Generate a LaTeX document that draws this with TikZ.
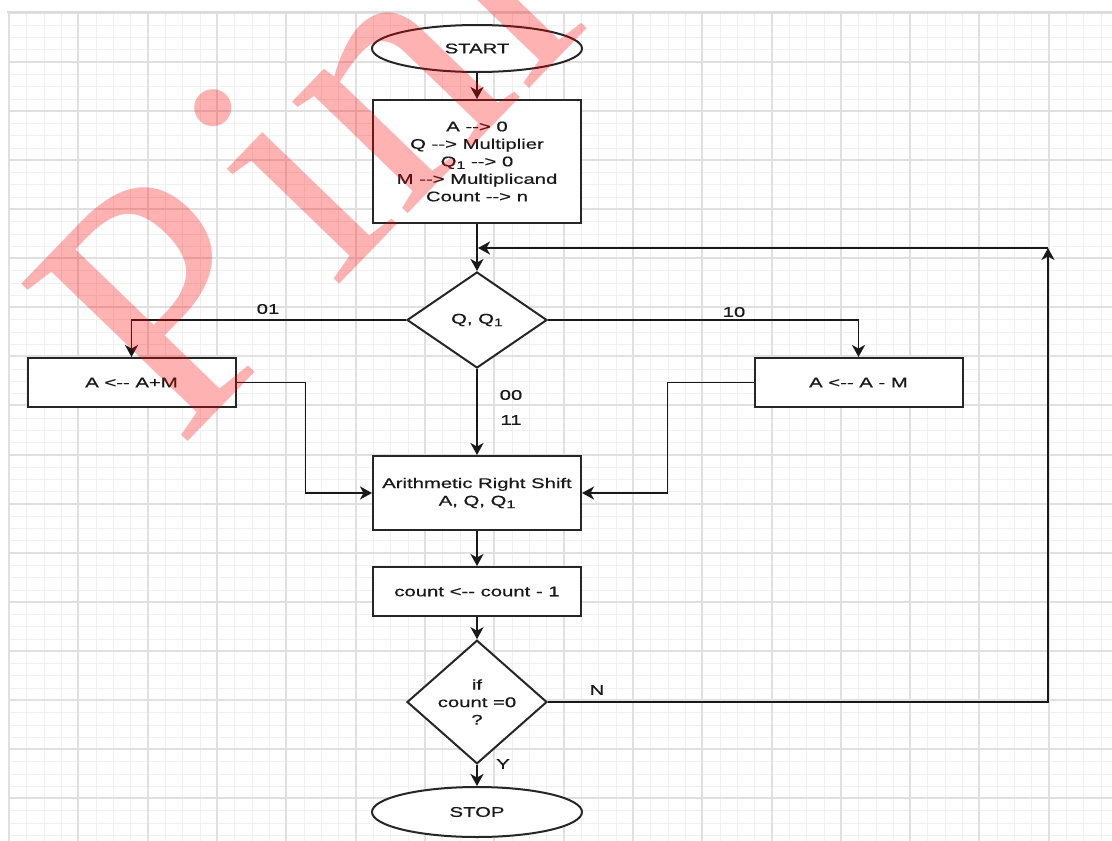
\documentclass[tikz,border=0pt]{standalone}
\usepackage{fontspec}
\setmainfont[FakeStretch=1.45,FakeBold=0.6]{Liberation Sans}
\newfontfamily\wmfont{Liberation Serif}
\usetikzlibrary{shapes.geometric,arrows.meta,calc}
\newcommand{\subone}{\raisebox{-0.35ex}{\fontsize{11pt}{11pt}\selectfont 1}}

\begin{document}
\begin{tikzpicture}[x=1pt,y=-1pt,
  gridminor/.style={draw=black!6,line width=1pt},
  gridmajor/.style={draw=black!12,line width=2pt},
  outline/.style={draw=black!85,line width=2pt,fill=white},
  txt/.style={font=\fontsize{14pt}{17.5pt}\selectfont,text=black!90,align=center},
  procbox/.style={outline,txt,rectangle,inner sep=0pt},
  decision/.style={outline,txt,diamond,inner sep=0pt},
  terminal/.style={outline,txt,ellipse,inner sep=0pt,minimum width=210pt,minimum height=47pt},
  lbl/.style={txt,inner sep=0pt},
  conn/.style={draw=black!90,line width=1.9pt,-{Stealth[length=12pt,width=13pt,inset=3.5pt]}},
  wm/.style={text=red,opacity=0.3,font=\wmfont\fontsize{350pt}{350pt}\selectfont,inner sep=0pt}
]
\useasboundingbox (0,0) rectangle (1112,841);
\clip (0,0) rectangle (1112,841);
\fill[white] (0,0) rectangle (1112,841);

% background grid, snapped to whole pixels
\foreach \i in {0,...,63} {
  \pgfmathsetmacro{\gx}{round(9+\i*17.33)+0.5}
  \draw[gridminor] (\gx,12.6) -- (\gx,841);
}
\foreach \j in {0,...,67} {
  \pgfmathsetmacro{\gy}{round(12.6+\j*12.275)+0.5}
  \draw[gridminor] (9,\gy) -- (1112,\gy);
}
\foreach \i in {0,...,15} {
  \pgfmathsetmacro{\gx}{round(9+\i*69.32)}
  \draw[gridmajor] (\gx,12.6) -- (\gx,841);
}
\foreach \j in {0,...,16} {
  \pgfmathsetmacro{\gy}{round(12.6+\j*49.1)}
  \draw[gridmajor] (9,\gy) -- (1112,\gy);
}
\draw[draw=black!14,line width=2pt] (7,12) -- (1112,12);

% flowchart nodes
\node[terminal] (start) at (477,48.5) {START};
\node[procbox,minimum width=208pt,minimum height=123pt] (init) at (477,161.5)
  {A -{}-> 0\\Q -{}-> Multiplier\\Q\subone\ -{}-> 0\\M -{}-> Multiplicand\\Count -{}-> n};
\node[decision,minimum width=140pt,minimum height=96pt] (test) at (477,320) {Q, Q\subone};
\node[procbox,minimum width=208pt,minimum height=49pt] (add) at (131.5,382.5) {A <-{}- A+M};
\node[procbox,minimum width=208pt,minimum height=49pt] (sub) at (858.5,382.5) {A <-{}- A - M};
\node[procbox,minimum width=208pt,minimum height=74pt] (shift) at (477,493) {Arithmetic Right Shift\\A, Q, Q\subone};
\node[procbox,minimum width=208pt,minimum height=49pt] (dec) at (477,591.5) {count <-{}- count - 1};
\node[decision,minimum width=140pt,minimum height=97pt] (done) at (477,702) {if\\count =0\\?};
\node[terminal,minimum height=50pt] (stop) at (477,812) {STOP};

\coordinate (loopcorner) at (1048,248);
\coordinate (loopjoin) at (478,248);

% connectors
\draw[conn] (start) -- (init);
\draw[conn] (init) -- (test);
\draw[conn] (test.west) -| (add.north);
\draw[conn] (test.east) -| (sub.north);
\draw[conn] (test) -- (shift);
\draw[conn] (add.east) -- ++(69,0) |- (shift.west);
\draw[conn] (sub.west) -- ++(-86,0) |- (shift.east);
\draw[conn] (shift) -- (dec);
\draw[conn] (dec) -- (done);
\draw[conn] (done) -- (stop);
\draw[conn] (done.east) -| (loopcorner);
\draw[conn] (loopcorner) -- (loopjoin);

% branch labels
\node[lbl] (l01) at (268,309) {01};
\node[lbl] (l10) at (734,312) {10};
\node[lbl] (l00) at (511,395) {00};
\node[lbl] (l11) at (511,420) {11};
\node[lbl] (lN) at (597,690) {N};
\node[lbl] (lY) at (503,764) {Y};

% watermark
\node[wm,rotate=46,anchor=base west] (mark) at (179,451) {P\kern30pt inl};
\end{tikzpicture}
\end{document}
